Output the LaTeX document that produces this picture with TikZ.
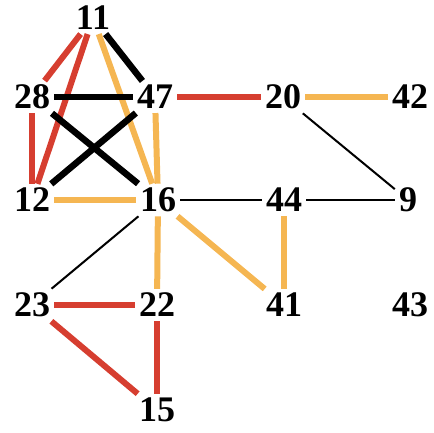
\documentclass[tikz,border=0pt]{standalone}
\usepackage{fontspec}
\setmainfont{Liberation Serif}
\usetikzlibrary{calc}

\definecolor{linkred}{RGB}{214,62,48}
\definecolor{linkorange}{RGB}{245,182,82}

\begin{document}
\begin{tikzpicture}[x=1pt,y=1pt,
    vertex/.style={inner sep=4pt, font=\fontsize{36}{40}\selectfont\bfseries},
    redlink/.style={linkred, line width=6pt},
    orangelink/.style={linkorange, line width=6pt},
    strong/.style={black, line width=6.5pt},
    weak/.style={black, line width=2pt}]
  \useasboundingbox (0,0) rectangle (434,433);

  \node[vertex] (n11) at (93,415) {11};
  \node[vertex] (n28) at (32,336) {28};
  \node[vertex] (n47) at (155,336) {47};
  \node[vertex] (n20) at (283,336) {20};
  \node[vertex] (n42) at (410,336) {42};
  \node[vertex] (n12) at (32,233) {12};
  \node[vertex] (n16) at (158,233) {16};
  \node[vertex] (n44) at (284,233) {44};
  \node[vertex] (n9) at (408,233) {9};
  \node[vertex] (n23) at (32,128) {23};
  \node[vertex] (n22) at (157,128) {22};
  \node[vertex] (n41) at (284,128) {41};
  \node[vertex] (n43) at (410,128) {43};
  \node[vertex] (n15) at (157,23) {15};

  \draw[redlink] (n11) -- (n28);
  \draw[redlink] (n11) -- (n12);
  \draw[strong] (n11) -- (n47);
  \draw[orangelink] (n11) -- (n16);
  \draw[redlink] (n28) -- (n12);
  \draw[strong] (n28) -- (n47);
  \draw[strong] (n28) -- (n16);
  \draw[strong] (n47) -- (n12);
  \draw[redlink] (n47) -- (n20);
  \draw[orangelink] (n47) -- (n16);
  \draw[orangelink] (n20) -- (n42);
  \draw[weak] (n20) -- (n9);
  \draw[orangelink] (n12) -- (n16);
  \draw[weak] (n16) -- (n44);
  \draw[weak] (n44) -- (n9);
  \draw[weak] (n16) -- (n23);
  \draw[orangelink] (n16) -- (n22);
  \draw[orangelink] (n16) -- (n41);
  \draw[orangelink] (n44) -- (n41);
  \draw[redlink] (n23) -- (n22);
  \draw[redlink] (n23) -- (n15);
  \draw[redlink] (n22) -- (n15);
\end{tikzpicture}
\end{document}
